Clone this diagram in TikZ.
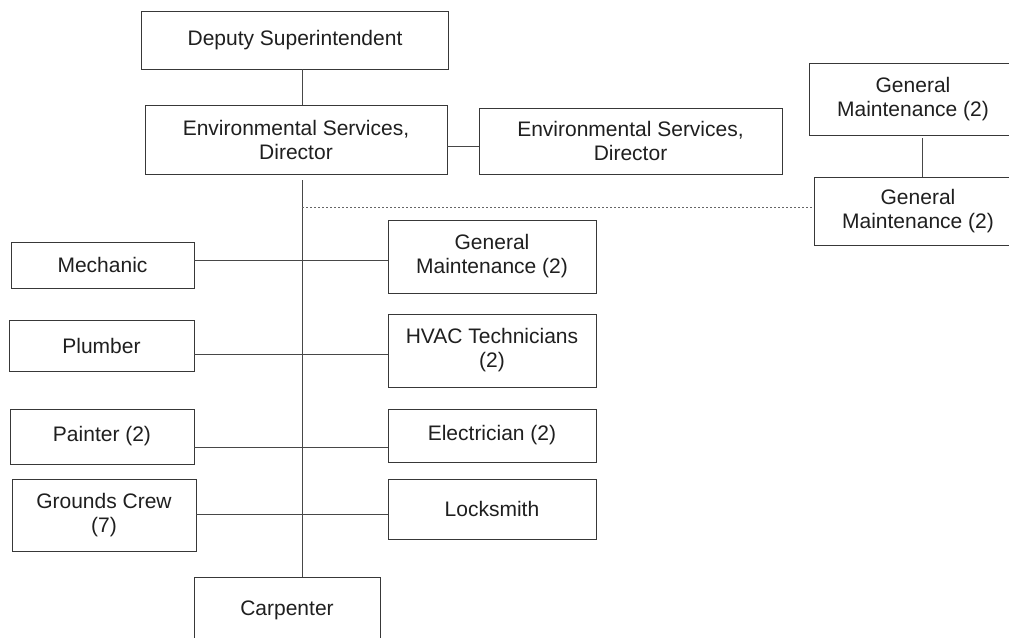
\documentclass[tikz,border=0pt]{standalone}
\usepackage{fontspec}
\setmainfont{Liberation Sans}
\begin{document}
\begin{tikzpicture}[x=1pt,y=-1pt,
  box/.style={draw=black!78, line width=0.9pt, fill=white, text=black!88,
    align=center, inner sep=0pt, font=\fontsize{21}{24}\selectfont},
  link/.style={draw=black!72, line width=0.9pt},
  dotlink/.style={draw=black!60, line width=0.9pt, dash pattern=on 2pt off 2pt}]
\clip (0,0) rectangle (1009,637);
\fill[white] (0,0) rectangle (1009,637);

% upper chain
\node[box, minimum width=307pt, minimum height=58pt] (dep) at (295,40) {Deputy Superintendent};
\node[box, minimum width=302pt, minimum height=69pt] (env) at (296,139.5) {Environmental Services,\\Director};
\node[box, minimum width=303pt, minimum height=66pt] (env2) at (630.5,141) {Environmental Services,\\Director};

% right-hand maintenance pair
\node[box, minimum width=208pt, minimum height=72pt] (gmA) at (913,99) {General\\Maintenance (2)};
\node[box, minimum width=208pt, minimum height=68pt] (gmB) at (918,211) {General\\Maintenance (2)};

% left column
\node[box, minimum width=183pt, minimum height=46pt] (mech) at (102.5,265) {Mechanic};
\node[box, minimum width=185pt, minimum height=51pt] (plum) at (101.5,345.5) {Plumber};
\node[box, minimum width=184pt, minimum height=55pt] (paint) at (102,436.5) {Painter (2)};
\node[box, minimum width=184pt, minimum height=72pt] (grnd) at (104,515) {Grounds Crew\\(7)};

% right column
\node[box, minimum width=208pt, minimum height=73pt] (gmM) at (492,256.5) {General\\Maintenance (2)};
\node[box, minimum width=208pt, minimum height=73pt] (hvac) at (492,350.5) {HVAC Technicians\\(2)};
\node[box, minimum width=208pt, minimum height=53pt] (elec) at (492,435.5) {Electrician (2)};
\node[box, minimum width=208pt, minimum height=60pt] (lock) at (492,509) {Locksmith};

% bottom
\node[box, minimum width=186pt, minimum height=66pt] (carp) at (287,610) {Carpenter};

% trunk
\coordinate (spine) at (302,180);
\coordinate (gmx) at (922,138);

\draw[link] (dep.south -| spine) -- (env.north -| spine);
\draw[link] ([yshift=-6.5pt]env.east) -- ([yshift=-5pt]env2.west);
\draw[link] (spine) -- (spine |- carp.north);
\draw[link] (gmx) -- (gmB.north -| gmx);
\draw[dotlink] (spine |- 0,207) -- (gmB.west |- 0,207);

\draw[link] (mech.east |- 0,260) -- (gmM.west |- 0,260);
\draw[link] (plum.east |- 0,354) -- (hvac.west |- 0,354);
\draw[link] (paint.east |- 0,447) -- (elec.west |- 0,447);
\draw[link] (grnd.east |- 0,514) -- (lock.west |- 0,514);
\end{tikzpicture}
\end{document}
